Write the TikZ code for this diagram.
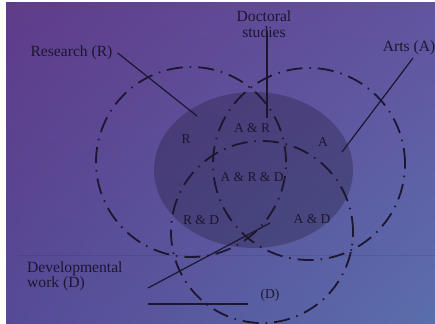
\documentclass[tikz,border=0pt]{standalone}
\usepackage{fontspec}
\setmainfont{Liberation Serif}
\usetikzlibrary{positioning,shadings}
\definecolor{ink}{RGB}{28,22,48}
\definecolor{bgtl}{RGB}{95,60,138}
\definecolor{bgtr}{RGB}{98,84,160}
\definecolor{bgbl}{RGB}{86,74,150}
\definecolor{bgbr}{RGB}{90,110,172}
\tikzset{
  ring/.style    = {draw=ink, circle, line width=1.8pt, dash pattern=on 16pt off 7pt on 1.5pt off 7pt},
  haze/.style    = {fill=ink, fill opacity=0.3},
  outer/.style   = {text=ink, font=\fontsize{15.6}{16.5}\selectfont, align=center, inner sep=2pt},
  inner/.style   = {text=ink, font=\fontsize{13.5}{14}\selectfont, inner sep=1pt},
  pointer/.style = {draw=ink, line width=1.2pt}
}

\begin{document}
\begin{tikzpicture}[x=1pt,y=-1pt]
\useasboundingbox (0,0) rectangle (435,323);
\fill[white] (0,0) rectangle (435,323);
\shade[upper left=bgtl, upper right=bgtr, lower left=bgbl, lower right=bgbr] (6,3) rectangle (435,323);
\draw[ink, opacity=0.12, line width=0.6pt] (18,255) -- (435,255);
% shaded doctoral area
\fill[haze] (253.5,170) ellipse [x radius=99.5pt, y radius=78pt];
% the three fields
\node[ring, minimum size=190pt] (R) at (191,162) {};
\node[ring, minimum size=192pt] (A) at (309,164) {};
\node[ring, minimum size=182pt] (D) at (262,232) {};
% labels inside
\node[inner] (r)   at (186,139) {R};
\node[inner] (ar)  at (252,128) {A \& R};
\node[inner] (a)   at (323,142) {A};
\node[inner] (ard) at (252,177) {A \& R \& D};
\node[inner] (rd)  at (201,220) {R \& D};
\node[inner] (ad)  at (312,219) {A \& D};
\node[inner] (d)   at (270,295) {(D)};
% labels outside
\node[outer] (doc)  at (264,24) {Doctoral\\[-1pt]studies};
\node[outer] (res)  at (71.5,53) {Research (R)};
\node[outer] (arts) at (409,48) {Arts (A)};
\node[outer, align=left, anchor=west] (dev) at (25,276) {Developmental\\[-1pt]work (D)};
\coordinate (docend) at (267,118);
\coordinate (docstart) at (267,31);
\coordinate (resend) at (197,116);
\coordinate (artsend) at (342,152);
\coordinate (artsstart) at (413,58);
\coordinate (devstart) at (148,288);
\coordinate (devend) at (270,223);
\coordinate (barl) at (148,304);
\coordinate (barr) at (248,304);
\draw[pointer] (docstart) -- (docend);
\draw[pointer] ([xshift=3pt]res.east) -- (resend);
\draw[pointer] (artsstart) -- (artsend);
\draw[pointer] (devstart) -- (devend);
\draw[pointer] (barl) -- (barr);
\end{tikzpicture}
\end{document}
